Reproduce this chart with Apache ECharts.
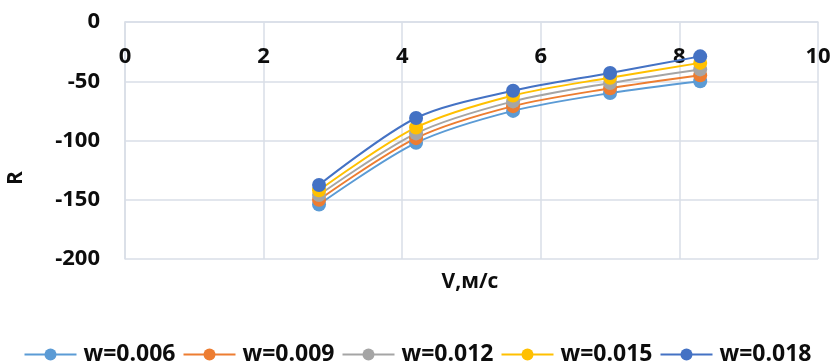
<!DOCTYPE html>
<html><head><meta charset="utf-8">
<script src="https://cdn.jsdelivr.net/npm/echarts@6/dist/echarts.min.js"></script>
<style>html,body{margin:0;padding:0;background:#fff}#c{width:835px;height:363px}</style>
</head><body><div id="c"></div>
<script>
const speeds = [2.8, 4.2, 5.6, 7.0, 8.3];
const seriesNames = ['w=0.006', 'w=0.009', 'w=0.012', 'w=0.015', 'w=0.018'];
const w006 = [-154, -102, -75, -60, -50];
const w009 = [-150, -98, -71, -56, -45];
const w012 = [-146, -94, -67, -51.5, -40];
const w015 = [-142, -89, -62, -47, -34.5];
const w018 = [-137.5, -81, -58, -43, -29];
const xTicks = [0, 2, 4, 6, 8, 10];
const yTicks = [0, -50, -100, -150, -200];
const colors = ['#5B9BD5', '#ED7D31', '#A5A5A5', '#FFC000', '#4472C4'];
const allValues = [w006, w009, w012, w015, w018];

const font = '"Open Sans", "Noto Sans", sans-serif';
const txt = '#0D0D0D';
const gridColor = '#D9DEE7';
const chart = echarts.init(document.getElementById('c'));
chart.setOption({
  animation: false,
  color: colors,
  grid: {left: 125, right: 17, top: 22, bottom: 104},
  xAxis: {
    type: 'value', position: 'top', min: xTicks[0], max: xTicks[xTicks.length-1], interval: 2,
    axisLine: {show: true, lineStyle: {color: gridColor, width: 1.5}},
    axisTick: {show: false},
    axisLabel: {inside: true, margin: 24, color: txt, fontSize: 22, fontWeight: 'bold', fontFamily: font},
    splitLine: {show: true, lineStyle: {color: gridColor, width: 1.5}}
  },
  yAxis: {
    type: 'value', min: yTicks[yTicks.length-1], max: yTicks[0], interval: 50,
    axisLine: {show: true, lineStyle: {color: gridColor, width: 1.5}},
    axisTick: {show: false},
    axisLabel: {margin: 25, color: txt, fontSize: 22, fontWeight: 'bold', fontFamily: font},
    splitLine: {show: true, lineStyle: {color: gridColor, width: 1.5}}
  },
  graphic: [
    {type: 'text', x: 16, y: 178, rotation: Math.PI/2,
     style: {text: 'R', fill: txt, font: 'bold 21px ' + font, textAlign: 'center', textVerticalAlign: 'middle'}},
    {type: 'text', x: 470, y: 282,
     style: {text: 'V,м/с', fill: txt, font: 'bold 21px ' + font, textAlign: 'center', textVerticalAlign: 'middle'}}
  ],
  legend: {
    top: 338, left: 'center', itemWidth: 52, itemHeight: 15, itemGap: 7,
    textStyle: {color: txt, fontSize: 23, fontWeight: 'bold', fontFamily: font, padding: [0,0,0,2]},
    data: seriesNames
  },
  series: seriesNames.map((n, i) => ({
    name: n, type: 'line', smooth: 0.3,
    symbol: 'circle', symbolSize: 14,
    lineStyle: {width: 2, color: colors[i]},
    itemStyle: {color: colors[i]},
    data: speeds.map((s, j) => [s, allValues[i][j]])
  }))
});
</script></body></html>
